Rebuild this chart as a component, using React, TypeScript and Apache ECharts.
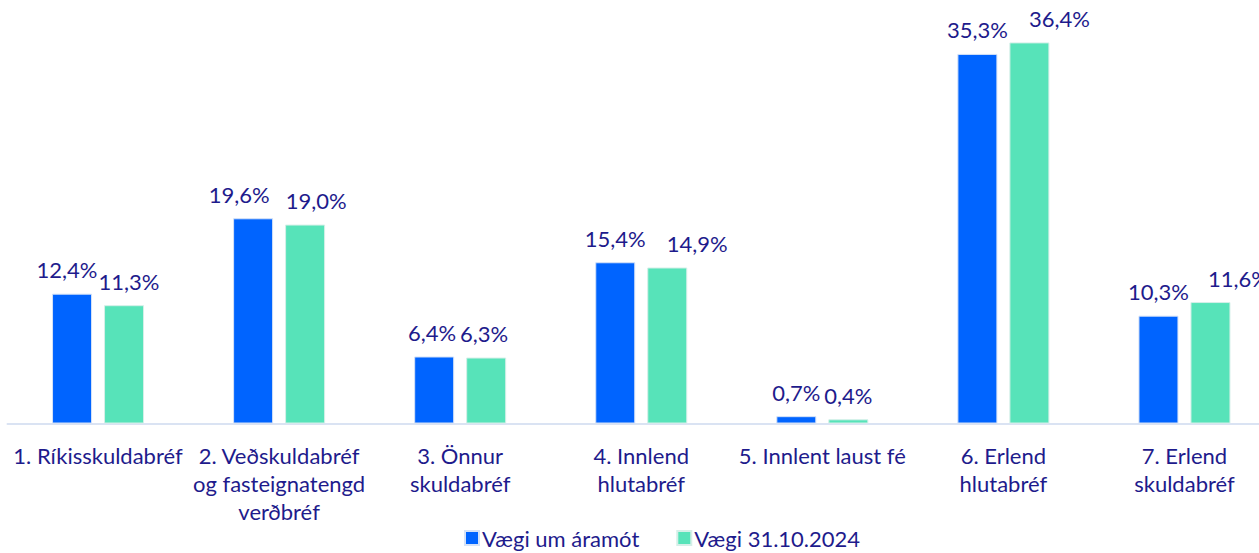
import React, { useEffect, useRef } from "react";
import * as echarts from "echarts";

const categories = [
  "1. Ríkisskuldabréf",
  "2. Veðskuldabréf\nog fasteignatengd\nverðbréf",
  "3. Önnur\nskuldabréf",
  "4. Innlend\nhlutabréf",
  "5. Innlent laust fé",
  "6. Erlend\nhlutabréf",
  "7. Erlend\nskuldabréf",
];
const seriesNames = ["Vægi um áramót", "Vægi 31.10.2024"];
const vaegiAramot = [12.4, 19.6, 6.4, 15.4, 0.7, 35.3, 10.3];
const vaegiOkt = [11.3, 19.0, 6.3, 14.9, 0.4, 36.4, 11.6];

// horizontal nudges of the value labels (as in the reference, to avoid overlap)
const nudgeAramot = [-5, -14, -2, 0, 0, 0, 0];
const nudgeOkt = [5, 11, -2, 30, 0, 30, 28];

const FONT = "Lato";
const TEXT = "#1E1B8C";

export default function App() {
  const ref = useRef<HTMLDivElement>(null);
  useEffect(() => {
    document.body.style.overflow = "hidden";
    const chart = echarts.init(ref.current!, null, { renderer: "svg" });
    const label = {
      show: true,
      position: "top" as const,
      distance: 13,
      color: TEXT,
      fontFamily: FONT,
      fontSize: 22,
      formatter: (p: any) => p.value.toFixed(1).replace(".", ",") + "%",
    };
    const build = (vals: number[], nudges: number[]) =>
      vals.map((v, i) => ({ value: v, label: { offset: [nudges[i], 0] } }));
    chart.setOption({
      animation: false,
      grid: { left: 7.5, right: 0, top: 4.7, bottom: 129.5, containLabel: false },
      legend: {
        top: 527,
        left: 464,
        padding: 0,
        itemWidth: 14,
        itemHeight: 14,
        itemGap: 37,
        icon: "rect",
        textStyle: { color: TEXT, fontFamily: FONT, fontSize: 22, padding: [0, 0, 0, -2] },
        data: seriesNames,
      },
      xAxis: {
        type: "category",
        data: categories,
        axisLine: { lineStyle: { color: "#DAE3F3", width: 2 } },
        axisTick: { show: false },
        axisLabel: {
          interval: 0,
          margin: 18,
          color: TEXT,
          fontFamily: FONT,
          fontSize: 22,
          lineHeight: 28,
        },
      },
      yAxis: {
        type: "value",
        min: 0,
        max: 40,
        show: false,
        splitLine: { show: false },
      },
      series: [
        {
          name: seriesNames[0],
          type: "bar",
          data: build(vaegiAramot, nudgeAramot),
          barWidth: 40,
          barGap: "30%",
          itemStyle: { color: "#0064FF", borderColor: "#D5E2F7", borderWidth: 1 },
          label,
        },
        {
          name: seriesNames[1],
          type: "bar",
          data: build(vaegiOkt, nudgeOkt),
          barWidth: 40,
          itemStyle: { color: "#57E3B9", borderColor: "#D5EFE8", borderWidth: 1 },
          label,
        },
      ],
    });
    return () => chart.dispose();
  }, []);
  return (
    <div
      ref={ref}
      style={{ position: "fixed", left: 0, top: 0, width: 1275, height: 553, background: "#fff" }}
    />
  );
}
